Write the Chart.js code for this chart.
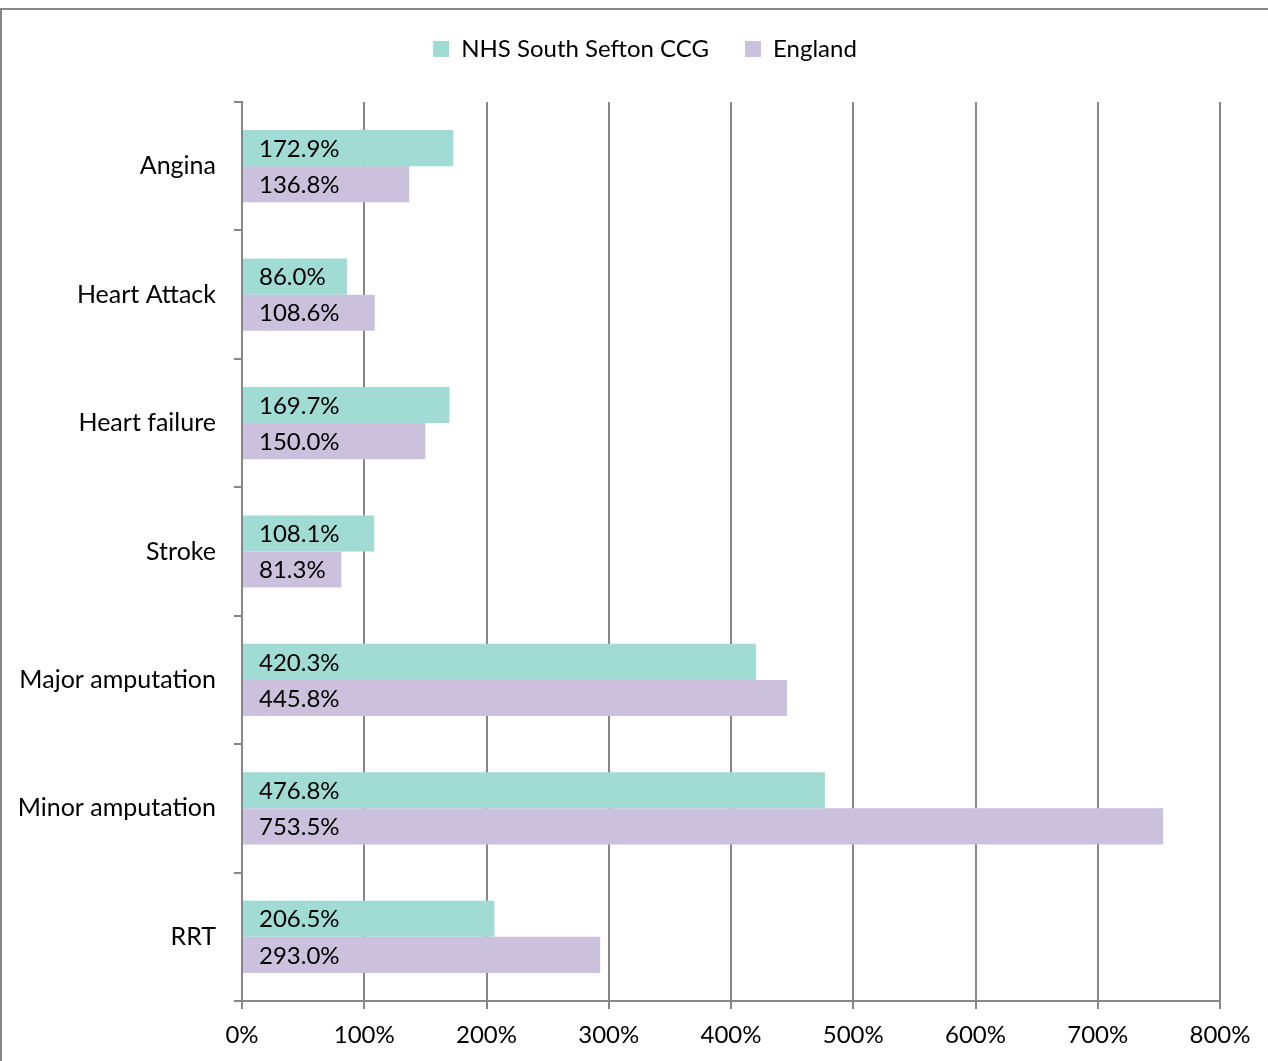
<!DOCTYPE html>
<html>
<head>
<meta charset="utf-8">
<script src="https://cdn.jsdelivr.net/npm/chart.js@4.4.1/dist/chart.umd.min.js"></script>
<style>
  body { margin: 0; background: #fff; }
</style>
</head>
<body>
<canvas id="myBarChart" width="1268" height="1061"></canvas>
<script>
let categories = ["Angina", "Heart Attack", "Heart failure", "Stroke", "Major amputation", "Minor amputation", "RRT"];
let ccgValues = [172.9, 86.0, 169.7, 108.1, 420.3, 476.8, 206.5];
let englandValues = [136.8, 108.6, 150.0, 81.3, 445.8, 753.5, 293.0];
let seriesNames = ["NHS South Sefton CCG", "England"];
let barColors = ["#a0dbd4", "#ccc1dc"];

let axisGray = "#878787";
let fontFamily = "Lato, 'Open Sans', sans-serif";

// white background + the outer frame (only top and left show in the picture)
const framePlugin = {
  id: "frame",
  beforeDraw(chart) {
    let ctx = chart.ctx;
    ctx.save();
    ctx.fillStyle = "#fff";
    ctx.fillRect(0, 0, chart.width, chart.height);
    ctx.strokeStyle = axisGray;
    ctx.lineWidth = 2;
    ctx.beginPath();
    ctx.moveTo(0, 9);
    ctx.lineTo(chart.width, 9);
    ctx.moveTo(1, 8);
    ctx.lineTo(1, chart.height);
    ctx.stroke();
    ctx.restore();
  },
};

// labels inside each bar, near the base
const barLabelPlugin = {
  id: "barLabels",
  afterDatasetsDraw(chart) {
    let ctx = chart.ctx;
    ctx.save();
    ctx.font = "24px " + fontFamily;
    ctx.fillStyle = "#000";
    ctx.textAlign = "left";
    ctx.textBaseline = "middle";
    chart.data.datasets.forEach((ds, i) => {
      let meta = chart.getDatasetMeta(i);
      meta.data.forEach((bar, j) => {
        ctx.fillText(ds.data[j].toFixed(1) + "%", bar.base + 16, bar.y + 1);
      });
    });
    ctx.restore();
  },
};

// legend: more room underneath, and centred over the whole box like the original
const legendSpacePlugin = {
  id: "legendSpace",
  afterInit(chart) {
    if (!chart.legend) return;
    let origFit = chart.legend.fit;
    chart.legend.fit = function () {
      origFit.call(this);
      this.height += 31;
    };
  },
  afterLayout(chart) {
    if (!chart.legend) return;
    chart.legend.left += 35;
    chart.legend.right += 35;
  },
};

let chart1 = document.getElementById("myBarChart").getContext("2d");

const myChart1 = new Chart(chart1, {
  type: "bar",
  data: {
    labels: categories,
    datasets: [
      {
        label: seriesNames[0],
        data: ccgValues,
        backgroundColor: barColors[0],
      },
      {
        label: seriesNames[1],
        data: englandValues,
        backgroundColor: barColors[1],
      },
    ],
  },
  options: {
    indexAxis: "y",
    responsive: false,
    devicePixelRatio: 1,
    animation: false,
    categoryPercentage: 0.5625,
    barPercentage: 1.0,
    layout: {
      padding: { top: 1, left: 0, right: 48, bottom: 0 },
    },
    plugins: {
      legend: {
        position: "top",
        labels: {
          boxWidth: 16,
          boxHeight: 16,
          padding: 36,
          color: "#000",
          font: { family: fontFamily, size: 24 },
        },
      },
      tooltip: { enabled: false },
    },
    scales: {
      x: {
        min: 0,
        max: 800,
        ticks: {
          stepSize: 100,
          callback: (v) => v + "%",
          color: "#000",
          padding: 12,
          maxRotation: 0,
          font: { family: fontFamily, size: 24 },
        },
        grid: {
          color: axisGray,
          lineWidth: 2,
          tickLength: 8,
        },
        border: { color: axisGray, width: 2 },
        afterFit(scale) {
          scale.height = 60;
        },
      },
      y: {
        grid: {
          offset: true,
          drawOnChartArea: false,
          color: axisGray,
          lineWidth: 2,
          tickLength: 8,
        },
        border: { color: axisGray, width: 2 },
        ticks: {
          color: "#000",
          padding: 18,
          font: { family: fontFamily, size: 25 },
        },
        afterFit(scale) {
          scale.width = 242;
        },
      },
    },
  },
  plugins: [framePlugin, barLabelPlugin, legendSpacePlugin],
});
</script>
</body>
</html>
